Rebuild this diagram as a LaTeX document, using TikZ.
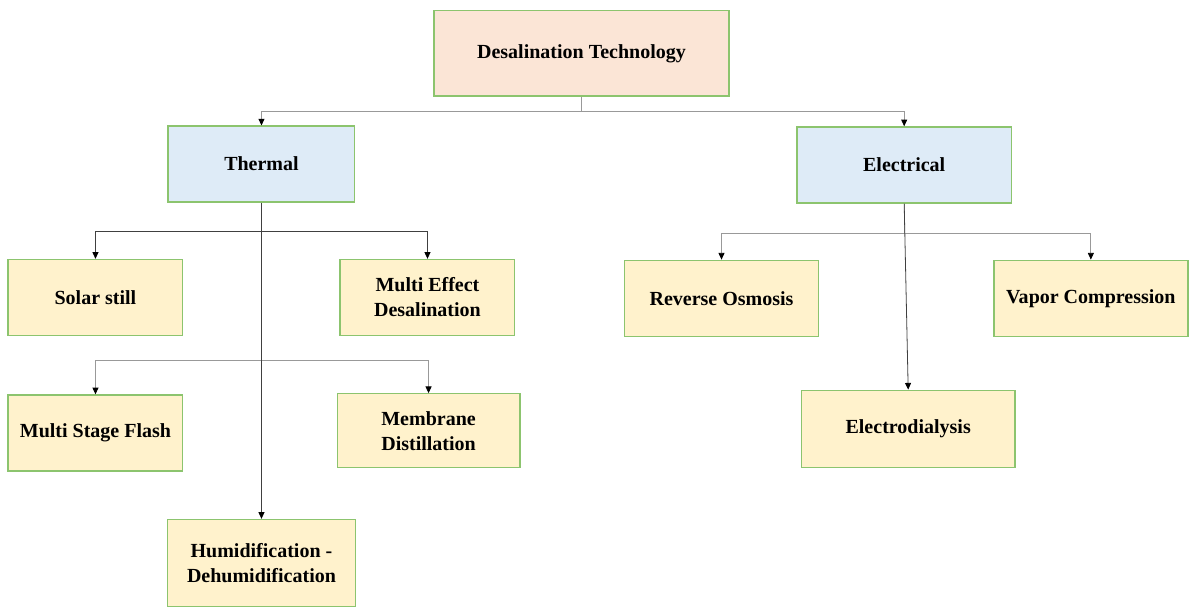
\documentclass[tikz,border=0pt]{standalone}
\usepackage{fontspec}
\setmainfont{Liberation Serif}
\usepackage{xcolor}
\usepackage{tikz}
\usetikzlibrary{arrows.meta,positioning}

\definecolor{rootfill}{HTML}{FBE5D6}
\definecolor{groupfill}{HTML}{DEEBF7}
\definecolor{leaffill}{HTML}{FFF2CC}
\definecolor{boxline}{HTML}{8CC46E}

\begin{document}
\begin{tikzpicture}[
  font=\fontsize{15}{18.75}\selectfont\bfseries,
  on grid,
  % Node styles
  box/.style={rectangle, draw=boxline, line width=1pt, align=center, inner sep=4pt},
  rootbox/.style={box, fill=rootfill, minimum width=221pt, minimum height=64pt},
  groupbox/.style={box, fill=groupfill, minimum width=140pt, minimum height=57pt},
  leafbox/.style={box, fill=leaffill, minimum width=131pt, minimum height=57pt},
  arr/.style={-{Triangle[length=5pt, width=4.5pt, color=black]}, line width=0.6pt, color=black!75},
  lightarr/.style={arr, color=black!40}
]
  \useasboundingbox (-436.1pt,40.1pt) rectangle (457.1pt,-416.6pt);

  % Level 0
  \node[rootbox] (desal) {Desalination Technology};

  % Level 1
  \node[groupbox, below left=83pt and 240pt of desal] (thermal) {Thermal};
  \node[groupbox, below right=83.6pt and 242pt of desal, minimum width=161pt] (electrical) {Electrical};

  % Thermal technologies
  \node[leafbox, below left=100pt and 124.5pt of thermal] (solar) {Solar still};
  \node[leafbox, below right=100pt and 124.5pt of thermal] (med) {Multi Effect\\Desalination};
  \node[leafbox, below=101.6pt of solar] (msf) {Multi Stage Flash};
  \node[leafbox, below=100pt of med, xshift=0.8pt, minimum width=137pt, minimum height=55.5pt] (md) {Membrane\\Distillation};
  \node[leafbox, below=299pt of thermal, minimum width=141pt, minimum height=65pt] (humid) {Humidification -\\Dehumidification};

  % Electrical technologies
  \node[leafbox, below left=100pt and 137pt of electrical, minimum width=145.5pt] (ro) {Reverse Osmosis};
  \node[leafbox, below right=100pt and 140pt of electrical, minimum width=145.5pt] (vc) {Vapor Compression};
  \node[leafbox, below right=198pt and 3pt of electrical, minimum width=160pt, minimum height=58pt] (ed) {Electrodialysis};

  % Edges: root -> groups
  \draw[lightarr] (desal.south) -- ++(0,-11.25pt) -| (thermal.north);
  \draw[lightarr] (desal.south) -- ++(0,-11.25pt) -| (electrical.north);

  % Edges: Thermal
  \draw[arr] (thermal.south) -- ++(0,-21.75pt) -| (solar.north);
  \draw[arr] (thermal.south) -- ++(0,-21.75pt) -| (med.north);
  \draw[lightarr] (thermal.south) -- ++(0,-118.5pt) -| (msf.north);
  \draw[lightarr] (thermal.south) -- ++(0,-118.5pt) -| (md.north);
  \draw[arr] (thermal.south) -- (humid.north);

  % Edges: Electrical
  \draw[lightarr] (electrical.south) -- ++(0,-22pt) -| (ro.north);
  \draw[lightarr] (electrical.south) -- ++(0,-22pt) -| (vc.north);
  \draw[arr] (electrical.south) -- (ed.north);

\end{tikzpicture}
\end{document}
